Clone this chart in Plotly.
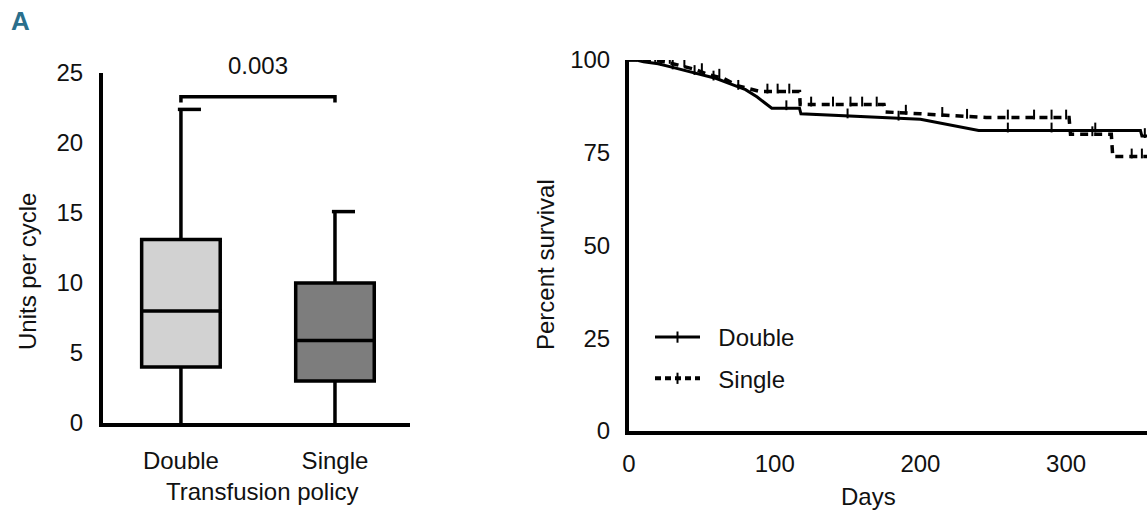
import plotly.graph_objects as go

FONT = "Liberation Sans, Arial, sans-serif"

# ---------------- Panel A-left: box plot data ----------------
policies = ["Double", "Single"]
box_min = [0.0, 0.0]
box_q1 = [4.0, 3.0]
box_median = [8.0, 5.9]
box_q3 = [13.1, 10.0]
box_max = [22.4, 15.1]
box_fill = ["#d2d2d2", "#7d7d7d"]
p_value = "0.003"
bracket_low = 22.9
bracket_high = 23.3

# ---------------- Panel A-right: survival data ----------------
double_days = [0, 5, 10, 20, 30, 40, 50, 60, 70, 80, 88, 98, 117, 118, 200, 240, 351, 352, 356]
double_surv = [100, 100, 99.5, 99, 98, 97, 96, 95, 93.5, 92, 90, 87, 87, 85.5, 84, 81, 81, 79.5, 79.5]
single_days = [0, 15, 25, 35, 45, 55, 65, 75, 85, 90, 117, 117.5, 175, 176, 200, 245, 302, 303, 331, 332, 356]
single_surv = [100, 100, 99.5, 98.5, 97.5, 96, 95, 93, 92, 91.5, 91.5, 88, 88, 86, 85.5, 84.5, 84.5, 80, 80, 74, 74]

double_cens_days = [14, 22, 30, 45, 58, 75, 108, 150, 185, 260, 290, 320, 354]
double_cens_surv = [99.5, 99, 98, 96.5, 95, 92.5, 87, 84.8, 84.2, 81, 81, 81, 79.5]
single_cens_days = [18, 28, 38, 50, 62, 95, 102, 110, 125, 140, 152, 160, 170, 190, 215, 232, 260, 278, 290, 300, 318, 345, 352]
single_cens_surv = [100, 99.5, 98.5, 97, 95.5, 91.5, 91.5, 91.5, 88, 88, 88, 88, 88, 85.8, 85.2, 84.7, 84.5, 84.5, 84.5, 84.5, 80, 74, 74]

fig = go.Figure()

# ---- boxes ----
for i, name in enumerate(policies):
    fig.add_trace(go.Box(
        x=[i], q1=[box_q1[i]], median=[box_median[i]], q3=[box_q3[i]],
        lowerfence=[box_min[i]], upperfence=[box_max[i]],
        width=0.51, whiskerwidth=0, fillcolor=box_fill[i],
        line=dict(color="black", width=3.5), boxpoints=False,
        xaxis="x", yaxis="y", showlegend=False, hoverinfo="skip",
    ))
    # top whisker cap (extends to the right, as drawn in the original)
    fig.add_trace(go.Scatter(
        x=[i - 0.02, i + 0.13], y=[box_max[i], box_max[i]], mode="lines",
        line=dict(color="black", width=3.5), xaxis="x", yaxis="y",
        showlegend=False, hoverinfo="skip",
    ))

# ---- significance bracket ----
fig.add_trace(go.Scatter(
    x=[0, 0, 1, 1], y=[bracket_low, bracket_high, bracket_high, bracket_low],
    mode="lines", line=dict(color="black", width=3.5),
    xaxis="x", yaxis="y", showlegend=False, hoverinfo="skip", cliponaxis=False,
))

# ---- survival curves ----
fig.add_trace(go.Scatter(
    x=double_days, y=double_surv, mode="lines",
    line=dict(color="black", width=3), xaxis="x2", yaxis="y2",
    showlegend=False, hoverinfo="skip",
))
fig.add_trace(go.Scatter(
    x=single_days, y=single_surv, mode="lines",
    line=dict(color="black", width=3.5, dash="8px,6px"), xaxis="x2", yaxis="y2",
    showlegend=False, hoverinfo="skip",
))
fig.add_trace(go.Scatter(
    x=double_cens_days, y=[v + 0.8 for v in double_cens_surv], mode="markers",
    marker=dict(symbol="line-ns", size=7, line=dict(color="black", width=2)),
    xaxis="x2", yaxis="y2", showlegend=False, hoverinfo="skip",
))
fig.add_trace(go.Scatter(
    x=single_cens_days, y=[v + 0.8 for v in single_cens_surv], mode="markers",
    marker=dict(symbol="line-ns", size=7, line=dict(color="black", width=2)),
    xaxis="x2", yaxis="y2", showlegend=False, hoverinfo="skip",
))

# ---- legend entries ----
fig.add_trace(go.Scatter(
    x=[None], y=[None], mode="lines+markers", name="\u00a0\u00a0Double",
    line=dict(color="black", width=3),
    marker=dict(symbol="line-ns", size=8, line=dict(color="black", width=2)),
    xaxis="x2", yaxis="y2", legendgroup="d",
))
fig.add_trace(go.Scatter(
    x=[None], y=[None], mode="lines+markers", name="\u00a0\u00a0Single",
    line=dict(color="black", width=4, dash="6px,4px"),
    marker=dict(symbol="line-ns", size=8, line=dict(color="black", width=2)),
    xaxis="x2", yaxis="y2", legendgroup="s",
))

tickfont = dict(family=FONT, size=24, color="#111111")
common = dict(ticks="outside", tickcolor="rgba(0,0,0,0)", showgrid=False, zeroline=False,
              showline=True, linecolor="black", linewidth=4, tickfont=tickfont, automargin=False)

fig.update_layout(
    template="none",
    width=1147, height=511,
    margin=dict(l=0, r=0, t=0, b=0, pad=0),
    paper_bgcolor="white", plot_bgcolor="white",
    font=dict(family=FONT, size=24, color="#111111"),
    xaxis=dict(domain=[103 / 1147, 410 / 1147], range=[-0.506, 1.487],
               tickmode="array", tickvals=[0, 1], ticktext=policies, ticklen=13,
               anchor="y", **common),
    yaxis=dict(domain=[88 / 511, 438 / 511], range=[0, 25], tickvals=[0, 5, 10, 15, 20, 25],
               ticklen=11, anchor="x", **common),
    xaxis2=dict(domain=[629 / 1147, 1.0], range=[0, 355.5], tickvals=[0, 100, 200, 300],
                ticklen=8, anchor="y2", **common),
    yaxis2=dict(domain=[80 / 511, 451 / 511], range=[0, 100], tickvals=[0, 25, 50, 75, 100],
                ticklen=10, anchor="x2", **common),
    legend=dict(x=650 / 1147, y=(511 - 315) / 511, xanchor="left", yanchor="top",
                font=dict(family=FONT, size=24, color="#111111"),
                bgcolor="rgba(0,0,0,0)", tracegroupgap=7, itemwidth=45),
    showlegend=True,
)

def note(text, x, y, size=24, angle=0, color="#111111", xref="paper"):
    return dict(text=text, x=x, y=y, xref=xref, yref="paper", xanchor="center", yanchor="middle",
                showarrow=False, textangle=angle, font=dict(family=FONT, size=size, color=color))

annotations = [
    note("<b>A</b>", 20 / 1147, (511 - 21) / 511, size=26, color="#2a6f8c"),
    note(p_value, 0.5, (511 - 65) / 511, xref="x"),
    note("Units per cycle", 27 / 1147, (511 - 272) / 511, angle=-90),
    note("Transfusion policy", 262 / 1147, (511 - 491) / 511),
    note("Percent survival", 545 / 1147, (511 - 265) / 511, angle=-90),
    note("Days", 868 / 1147, (511 - 496) / 511),
]
fig.update_layout(annotations=annotations)

fig.write_html("out.html")
